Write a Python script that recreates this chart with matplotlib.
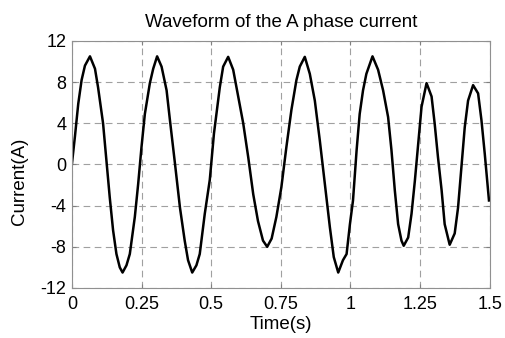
import matplotlib
matplotlib.use("Agg")
import matplotlib.pyplot as plt

t = [0.000, 0.011, 0.023, 0.035, 0.047, 0.065, 0.083, 0.094, 0.112, 0.124,
     0.136, 0.148, 0.160, 0.172, 0.182, 0.196, 0.208, 0.226, 0.238, 0.250,
     0.262, 0.280, 0.292, 0.306, 0.322, 0.340, 0.352, 0.370, 0.388, 0.405,
     0.417, 0.432, 0.447, 0.459, 0.477, 0.495, 0.510, 0.531, 0.543, 0.561,
     0.579, 0.597, 0.615, 0.633, 0.651, 0.668, 0.686, 0.701, 0.717, 0.734,
     0.752, 0.770, 0.788, 0.806, 0.818, 0.836, 0.854, 0.872, 0.890, 0.908,
     0.926, 0.940, 0.956, 0.973, 0.986, 0.998, 1.009, 1.022, 1.033, 1.045,
     1.057, 1.079, 1.099, 1.117, 1.135, 1.147, 1.159, 1.171, 1.183, 1.191,
     1.207, 1.219, 1.231, 1.243, 1.255, 1.273, 1.291, 1.302, 1.314, 1.327,
     1.338, 1.356, 1.374, 1.386, 1.398, 1.410, 1.422, 1.440, 1.458, 1.470,
     1.482, 1.497]
current = [0.0, 2.7, 5.9, 8.2, 9.6, 10.5, 9.3, 7.5, 4.0, 0.4,
           -3.2, -6.4, -8.7, -10.0, -10.5, -9.8, -8.7, -5.1, -1.9, 1.7,
           4.9, 7.9, 9.3, 10.5, 9.5, 7.2, 4.3, 0.1, -4.2, -7.4,
           -9.3, -10.5, -9.8, -8.7, -4.8, -1.5, 3.0, 7.5, 9.5, 10.45,
           9.2, 6.6, 4.0, 0.7, -2.9, -5.5, -7.4, -8.0, -7.2, -5.1,
           -2.2, 1.7, 5.3, 8.2, 9.5, 10.45, 8.8, 6.2, 2.3, -1.9,
           -6.1, -9.0, -10.5, -9.3, -8.7, -5.8, -3.5, 1.4, 4.9, 7.2,
           8.8, 10.5, 9.2, 7.2, 4.6, 1.4, -2.5, -5.8, -7.4, -7.9,
           -7.1, -4.8, -1.6, 2.0, 5.6, 7.9, 6.6, 4.0, 0.7, -2.5,
           -5.8, -7.8, -6.7, -4.2, -0.3, 3.6, 6.2, 7.7, 6.9, 4.3,
           1.0, -3.5]

xticks = [0, 0.25, 0.5, 0.75, 1, 1.25, 1.5]
xticklabels = ["0", "0.25", "0.5", "0.75", "1", "1.25", "1.5"]
yticks = [-12, -8, -4, 0, 4, 8, 12]

plt.rcParams['font.family'] = ['Liberation Sans', 'DejaVu Sans']
plt.rcParams['axes.unicode_minus'] = False
fig = plt.figure(figsize=(5.06, 3.38), dpi=100)
ax = fig.add_axes([0.142, 0.148, 0.826, 0.731])
ax.plot(t, current, color='black', linewidth=1.8)
ax.set_xlim(0, 1.5)
ax.set_ylim(-12, 12)
ax.set_xticks(xticks)
ax.set_xticklabels(xticklabels)
ax.set_yticks(yticks)
ax.grid(True, linestyle=(0, (6, 4)), color='#a0a0a0', linewidth=0.8)
ax.tick_params(direction='in', length=3, labelsize=13, colors='#808080',
               labelcolor='black', top=True, right=True)
ax.tick_params(axis='x', pad=6)
ax.tick_params(axis='y', pad=4)
for s in ax.spines.values():
    s.set_color('#909090')
    s.set_linewidth(0.8)
ax.set_title("Waveform of the A phase current", fontsize=13.5, pad=10)
ax.set_xlabel("Time(s)", fontsize=13.5, labelpad=2)
ax.set_ylabel("Current(A)", fontsize=13.5)
ax.yaxis.set_label_coords(-0.105, 0.431)
fig.savefig("out.png", dpi=100)
